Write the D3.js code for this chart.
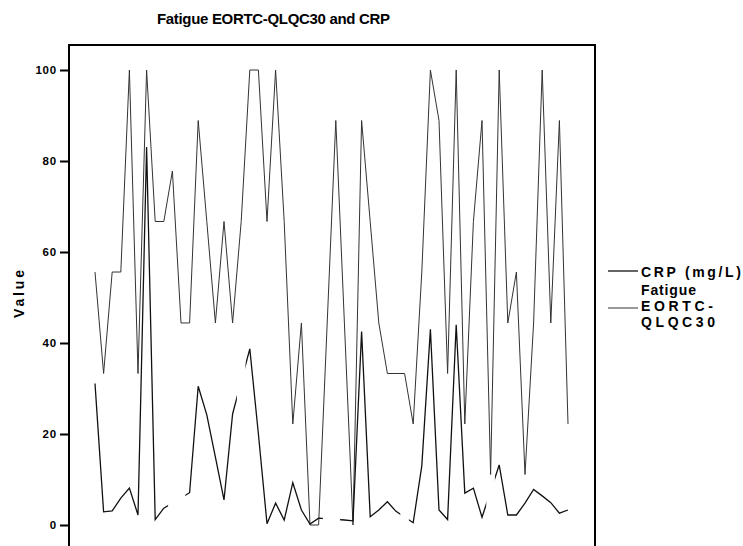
<!DOCTYPE html>
<html>
<head>
<meta charset="utf-8">
<script src="https://cdn.jsdelivr.net/npm/d3@7"></script>
<style>
  body { margin: 0; background: #fff; }
  svg { display: block; }
  text { font-family: "Liberation Sans", Arial, sans-serif; font-weight: bold; fill: #000; }
</style>
</head>
<body>
<div id="chart"></div>
<script>
// values, one per case (null = missing)
var fatigue = [55.6, 33.3, 55.6, 55.6, 100, 33.3, 100, 66.7, 66.7, 77.8,
  44.4, 44.4, 88.9, 66.7, 44.4, 66.7, 44.4, 66.7, 100, 100,
  66.7, 100, 66.7, 22.2, 44.4, 0, 0, 44.4, 88.9, 44.4,
  0, 88.9, 66.7, 44.4, 33.3, 33.3, 33.3, 22.2, 55.6, 100,
  88.9, 33.3, 100, 22.2, 66.7, 88.9, 11.1, 100, 44.4, 55.6,
  11.1, 44.4, 100, 44.4, 88.9, 22.2];

var crp = [31.1, 2.9, 3.1, 5.9, 8.1, 2.2, 83.1, 1.2, 3.7, null,
  null, 7.1, 30.5, 24.2, 14.9, 5.5, 24.4, null, 38.7, 20,
  0.3, 4.8, 1.1, 9.3, 3.3, 0.2, 1.5, null, null, 1.1,
  0.9, 42.5, 1.8, 3.3, 5.1, 3.0, null, 0.5, 13, 43,
  3.3, 1.2, 44, 7, 8.1, 1.7, null, 13.2, 2.2, 2.2,
  4.8, 7.8, 6.4, 4.9, 2.6, 3.3];

var yTicks = [0, 20, 40, 60, 80, 100];
var seriesNames = ["CRP (mg/L)", ["Fatigue", "EORTC-", "QLQC30"]];

var W = 743, H = 546,
    m = [45, 595, 69]; // frame top, right, left; bottom runs off the page

var svg = d3.select("#chart").append("svg")
  .attr("width", W)
  .attr("height", H);

var x = d3.scaleLinear().domain([0, crp.length - 1]).range([95, 568]);
var y = d3.scaleLinear().domain([0, 100]).range([525, 70]);

// title
svg.append("text")
  .attr("x", 273.5).attr("y", 24)
  .attr("text-anchor", "middle")
  .attr("font-size", 15)
  .attr("textLength", 233)
  .attr("lengthAdjust", "spacing")
  .text("Fatigue EORTC-QLQC30 and CRP");

// frame
svg.append("path")
  .attr("d", "M" + m[2] + "," + (H + 20) + "V" + m[0] + "H" + m[1] + "V" + (H + 20))
  .attr("fill", "none")
  .attr("stroke", "#000")
  .attr("stroke-width", 2);

// y axis
var yAxis = svg.append("g")
  .attr("transform", "translate(" + m[2] + ",0)")
  .call(d3.axisLeft(y).tickValues(yTicks).tickSize(9).tickPadding(3));
yAxis.select(".domain").remove();
yAxis.selectAll(".tick line").attr("stroke", "#000").attr("stroke-width", 2);
yAxis.selectAll(".tick text")
  .attr("font-size", 11.5)
  .attr("font-family", "Liberation Sans, Arial, sans-serif")
  .attr("font-weight", "bold")
  .attr("letter-spacing", 0.8);

svg.append("text")
  .attr("transform", "translate(24,294) rotate(-90)")
  .attr("text-anchor", "middle")
  .attr("font-size", 14)
  .attr("textLength", 48)
  .attr("lengthAdjust", "spacing")
  .text("Value");

// lines
var line = d3.line()
  .x(function (d) { return x(d.i); })
  .y(function (d) { return y(d.v); });

var pts = function (arr) {
  return arr.map(function (v, i) { return { i: i, v: v }; })
    .filter(function (d) { return d.v != null; });
};

// missing cases show as a gap one step wider than the run of missing cases
var visible = [], start = -1;
crp.forEach(function (v, i) {
  if (v == null && (i === 0 || crp[i - 1] != null)) {
    visible.push([start, i - 0.5]);
  }
  if (v == null && (i === crp.length - 1 || crp[i + 1] != null)) {
    start = i + 0.5;
  }
});
visible.push([start, crp.length]);

var clip = svg.append("clipPath").attr("id", "crp-gaps");
clip.selectAll("rect")
  .data(visible)
  .enter().append("rect")
  .attr("x", function (d) { return x(d[0]); })
  .attr("width", function (d) { return x(d[1]) - x(d[0]); })
  .attr("y", 0)
  .attr("height", H);

svg.append("path")
  .attr("d", line(pts(fatigue)))
  .attr("fill", "none")
  .attr("stroke", "#333")
  .attr("stroke-width", 1);

svg.append("path")
  .attr("d", line(pts(crp)))
  .attr("clip-path", "url(#crp-gaps)")
  .attr("fill", "none")
  .attr("stroke", "#111")
  .attr("stroke-width", 1.3);

// legend
var lg = svg.append("g");
lg.append("line")
  .attr("x1", 608).attr("x2", 638).attr("y1", 271).attr("y2", 271)
  .attr("stroke", "#111").attr("stroke-width", 1.3);
lg.append("text")
  .attr("x", 641).attr("y", 276.5)
  .attr("font-size", 14)
  .attr("textLength", 100)
  .attr("lengthAdjust", "spacing")
  .text(seriesNames[0]);

lg.append("line")
  .attr("x1", 608).attr("x2", 638).attr("y1", 308).attr("y2", 308)
  .attr("stroke", "#333").attr("stroke-width", 1);
var lens = [55, 72, 74];
seriesNames[1].forEach(function (s, k) {
  lg.append("text")
    .attr("x", 641).attr("y", 295 + k * 16)
    .attr("font-size", 14)
    .attr("textLength", lens[k])
    .attr("lengthAdjust", "spacing")
    .text(s);
});
</script>
</body>
</html>
